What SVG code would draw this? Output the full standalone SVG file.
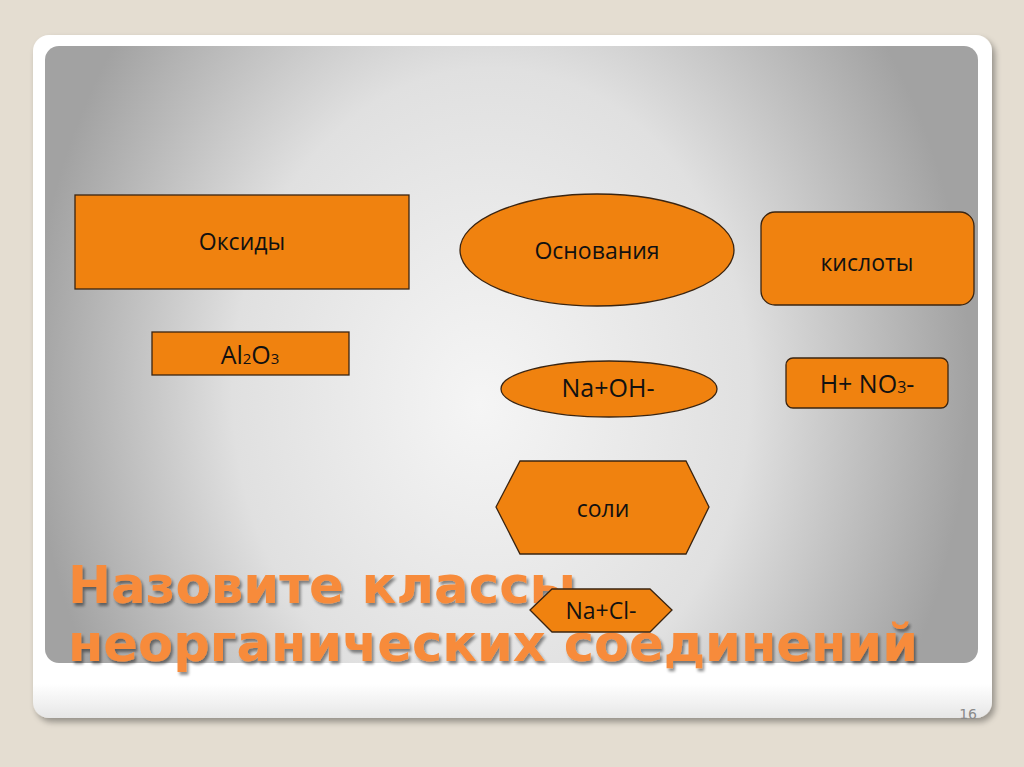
<svg xmlns="http://www.w3.org/2000/svg" width="1024" height="767" viewBox="0 0 1024 767">
<defs>
<radialGradient id="bg" gradientUnits="userSpaceOnUse" cx="500" cy="380" r="470" fx="480" fy="400" gradientTransform="translate(500 380) scale(1 1.25) translate(-500 -380)">
<stop offset="0" stop-color="#f5f5f5"/>
<stop offset="0.55" stop-color="#e0e0e0"/>
<stop offset="1" stop-color="#a2a2a2"/>
</radialGradient>
<linearGradient id="frameBottom" x1="0" y1="0" x2="0" y2="1">
<stop offset="0" stop-color="#ffffff"/>
<stop offset="0.95" stop-color="#ffffff"/>
<stop offset="1" stop-color="#e6e6e6"/>
</linearGradient>
<filter id="sh" x="-5%" y="-5%" width="110%" height="110%">
<feGaussianBlur in="SourceAlpha" stdDeviation="3"/>
<feOffset dx="3" dy="4"/>
<feComponentTransfer><feFuncA type="linear" slope="0.35"/></feComponentTransfer>
<feMerge><feMergeNode/><feMergeNode in="SourceGraphic"/></feMerge>
</filter>
<filter id="tsh" x="-5%" y="-20%" width="110%" height="140%">
<feGaussianBlur in="SourceAlpha" stdDeviation="1.5"/>
<feOffset dx="2" dy="3"/>
<feComponentTransfer><feFuncA type="linear" slope="0.45"/></feComponentTransfer>
<feMerge><feMergeNode/><feMergeNode in="SourceGraphic"/></feMerge>
</filter>
</defs>
<style>
.box{fill:#f0820f;stroke:#3a2410;stroke-width:1.3}
.lbl{font-family:"Open Sans","Liberation Sans",sans-serif;font-size:23px;fill:#111;text-anchor:middle}
.big{font-family:"Open Sans","Liberation Sans",sans-serif;font-size:25px;fill:#111}
.title{font-family:"DejaVu Sans",Verdana,sans-serif;font-weight:bold;font-size:52px;fill:#f78b3a}
</style>
<rect width="1024" height="767" fill="#e4ddd1"/>
<rect x="33" y="35" width="959" height="683" rx="16" fill="url(#frameBottom)" filter="url(#sh)"/>
<rect x="45" y="46" width="933" height="617" rx="14" fill="url(#bg)"/>
<text x="977" y="719" font-family="Verdana,'DejaVu Sans',sans-serif" font-size="14" fill="#8a8a8a" text-anchor="end">16</text>

<g id="title" filter="url(#tsh)">
<text class="title" x="68" y="603" textLength="508" lengthAdjust="spacingAndGlyphs">Назовите классы</text>
<text class="title" x="68" y="661" textLength="850" lengthAdjust="spacingAndGlyphs">неорганических соединений</text>
</g>

<g id="connectors"></g>

<g id="oksidy">
<rect class="box" x="75" y="195" width="334" height="94"/>
<text class="lbl" x="242" y="250">Оксиды</text>
</g>
<g id="al2o3">
<rect class="box" x="152" y="332" width="197" height="43"/>
<text class="big" x="250" y="364" text-anchor="middle">Al<tspan font-size="15">2</tspan>O<tspan font-size="15">3</tspan></text>
</g>
<g id="osnovaniya">
<ellipse class="box" cx="597" cy="250" rx="137" ry="56"/>
<text class="lbl" x="597" y="259">Основания</text>
</g>
<g id="naoh">
<ellipse class="box" cx="609" cy="389" rx="108" ry="28"/>
<text class="big" x="608" y="397" text-anchor="middle">Na+OH-</text>
</g>
<g id="kisloty">
<rect class="box" x="761" y="212" width="213" height="93" rx="14"/>
<text class="lbl" x="867" y="271">кислоты</text>
</g>
<g id="hno3">
<rect class="box" x="786" y="358" width="162" height="50" rx="7"/>
<text class="big" x="867" y="393" text-anchor="middle" font-size="26">H+ NO<tspan font-size="16">3</tspan>-</text>
</g>
<g id="soli">
<polygon class="box" points="496,507 520,461 686,461 709,507 686,554 520,554"/>
<text class="lbl" x="603" y="517">соли</text>
</g>
<g id="nacl">
<polygon class="box" points="530,610 552,589 650,589 672,610 650,632 552,632"/>
<text class="lbl" x="601" y="619" font-size="22">Na+Cl-</text>
</g>
</svg>
